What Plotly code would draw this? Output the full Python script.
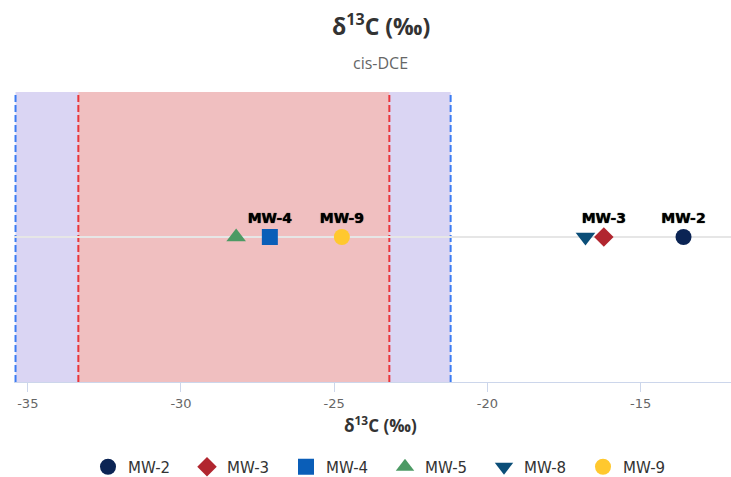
import plotly.graph_objects as go

# ---- data ----
wells = ["MW-2", "MW-3", "MW-4", "MW-5", "MW-8", "MW-9"]
d13c = [-13.6, -16.2, -27.1, -28.2, -16.8, -24.75]
point_labels = ["MW-2", "MW-3", "MW-4", "", "", "MW-9"]
symbols = ["circle", "diamond", "square", "triangle-up", "triangle-down", "circle"]
colors = ["#0b2454", "#b1262f", "#0a5eb8", "#4c9a64", "#0b4e78", "#ffc82e"]

outer_band = [-35.4, -21.2]   # blue-bounded range
inner_band = [-33.35, -23.2]  # red-bounded range

x_range = [-35.45, -12.05]
tick_vals = [-35, -30, -25, -20, -15]
tick_text = ["-35", "-30", "-25", "-20", "-15"]

title_text = "δ<sup>13</sup>C (‰)"
subtitle_text = "cis-DCE"
axis_title_text = "δ<sup>13</sup>C (‰)"

W, H = 731, 477
ML, MR, MT, MB = 14, 0, 92, 95
CX_PAPER = (381 - ML) / (W - ML - MR)

fig = go.Figure()

for w, v, lab, s, c in zip(wells, d13c, point_labels, symbols, colors):
    size = 17 if "triangle" in s else (15 if s == "diamond" else 16)
    tr = dict(x=[v], y=[0], name=w,
              marker=dict(symbol=s, color=c, size=size, line=dict(width=0)),
              cliponaxis=False)
    if lab:
        tr.update(mode="markers+text", text=[lab], textposition="top center",
                  textfont=dict(family="DejaVu Sans", size=14, color="#000000", weight="bold",
                                shadow="0px 0px 1px #000000"))
    else:
        tr.update(mode="markers")
    fig.add_trace(go.Scatter(**tr))

shapes = [
    dict(type="rect", xref="x", yref="paper", x0=outer_band[0], x1=outer_band[1], y0=0, y1=1,
         fillcolor="#dad5f3", line=dict(width=0), layer="below"),
    dict(type="rect", xref="x", yref="paper", x0=inner_band[0], x1=inner_band[1], y0=0, y1=1,
         fillcolor="#f0bfc0", line=dict(width=0), layer="below"),
]
for xv in outer_band:
    shapes.append(dict(type="line", xref="x", yref="paper", x0=xv, x1=xv, y0=0, y1=1,
                       line=dict(color="#3b7cf2", width=2, dash="7px,3px"), layer="below"))
for xv in inner_band:
    shapes.append(dict(type="line", xref="x", yref="paper", x0=xv, x1=xv, y0=0, y1=1,
                       line=dict(color="#e8363c", width=2, dash="7px,3px"), layer="below"))

fig.update_layout(
    width=W, height=H,
    margin=dict(l=ML, r=MR, t=MT, b=MB),
    paper_bgcolor="white", plot_bgcolor="white",
    showlegend=True,
    shapes=shapes,
    xaxis=dict(range=x_range, tickvals=tick_vals, ticktext=tick_text,
               showgrid=False, zeroline=False,
               showline=True, linecolor="#ccd6eb", linewidth=1,
               ticks="outside", ticklen=9, tickcolor="#ccd6eb", tickwidth=1,
               tickfont=dict(family="DejaVu Sans", size=13, color="#666666")),
    yaxis=dict(range=[-1, 1], showgrid=False, zeroline=True, zerolinecolor="#e6e6e6",
               zerolinewidth=1.5, showticklabels=False, showline=False, ticks=""),
    legend=dict(orientation="h", xref="container", yref="container",
                x=385 / W, xanchor="center", y=10 / H, yanchor="middle",
                font=dict(family="DejaVu Sans", size=15, color="#333333"),
                itemwidth=30, entrywidth=54, entrywidthmode="pixels"),
    annotations=[
        dict(text="<b>" + title_text + "</b>", xref="paper", yref="paper",
             x=CX_PAPER, y=1, yshift=67, showarrow=False,
             xanchor="center", yanchor="middle",
             font=dict(family="Open Sans", size=23, color="#333333")),
        dict(text=subtitle_text, xref="paper", yref="paper",
             x=CX_PAPER, y=1, yshift=29, showarrow=False,
             xanchor="center", yanchor="middle",
             font=dict(family="Open Sans", size=16, color="#666666")),
        dict(text="<b>" + axis_title_text + "</b>", xref="paper", yref="paper",
             x=CX_PAPER, y=0, yshift=-42, showarrow=False,
             xanchor="center", yanchor="middle",
             font=dict(family="Open Sans", size=17, color="#333333")),
    ],
)

fig.write_html("out.html", config={"displayModeBar": False},
               post_script="document.body.style.margin='0';")
